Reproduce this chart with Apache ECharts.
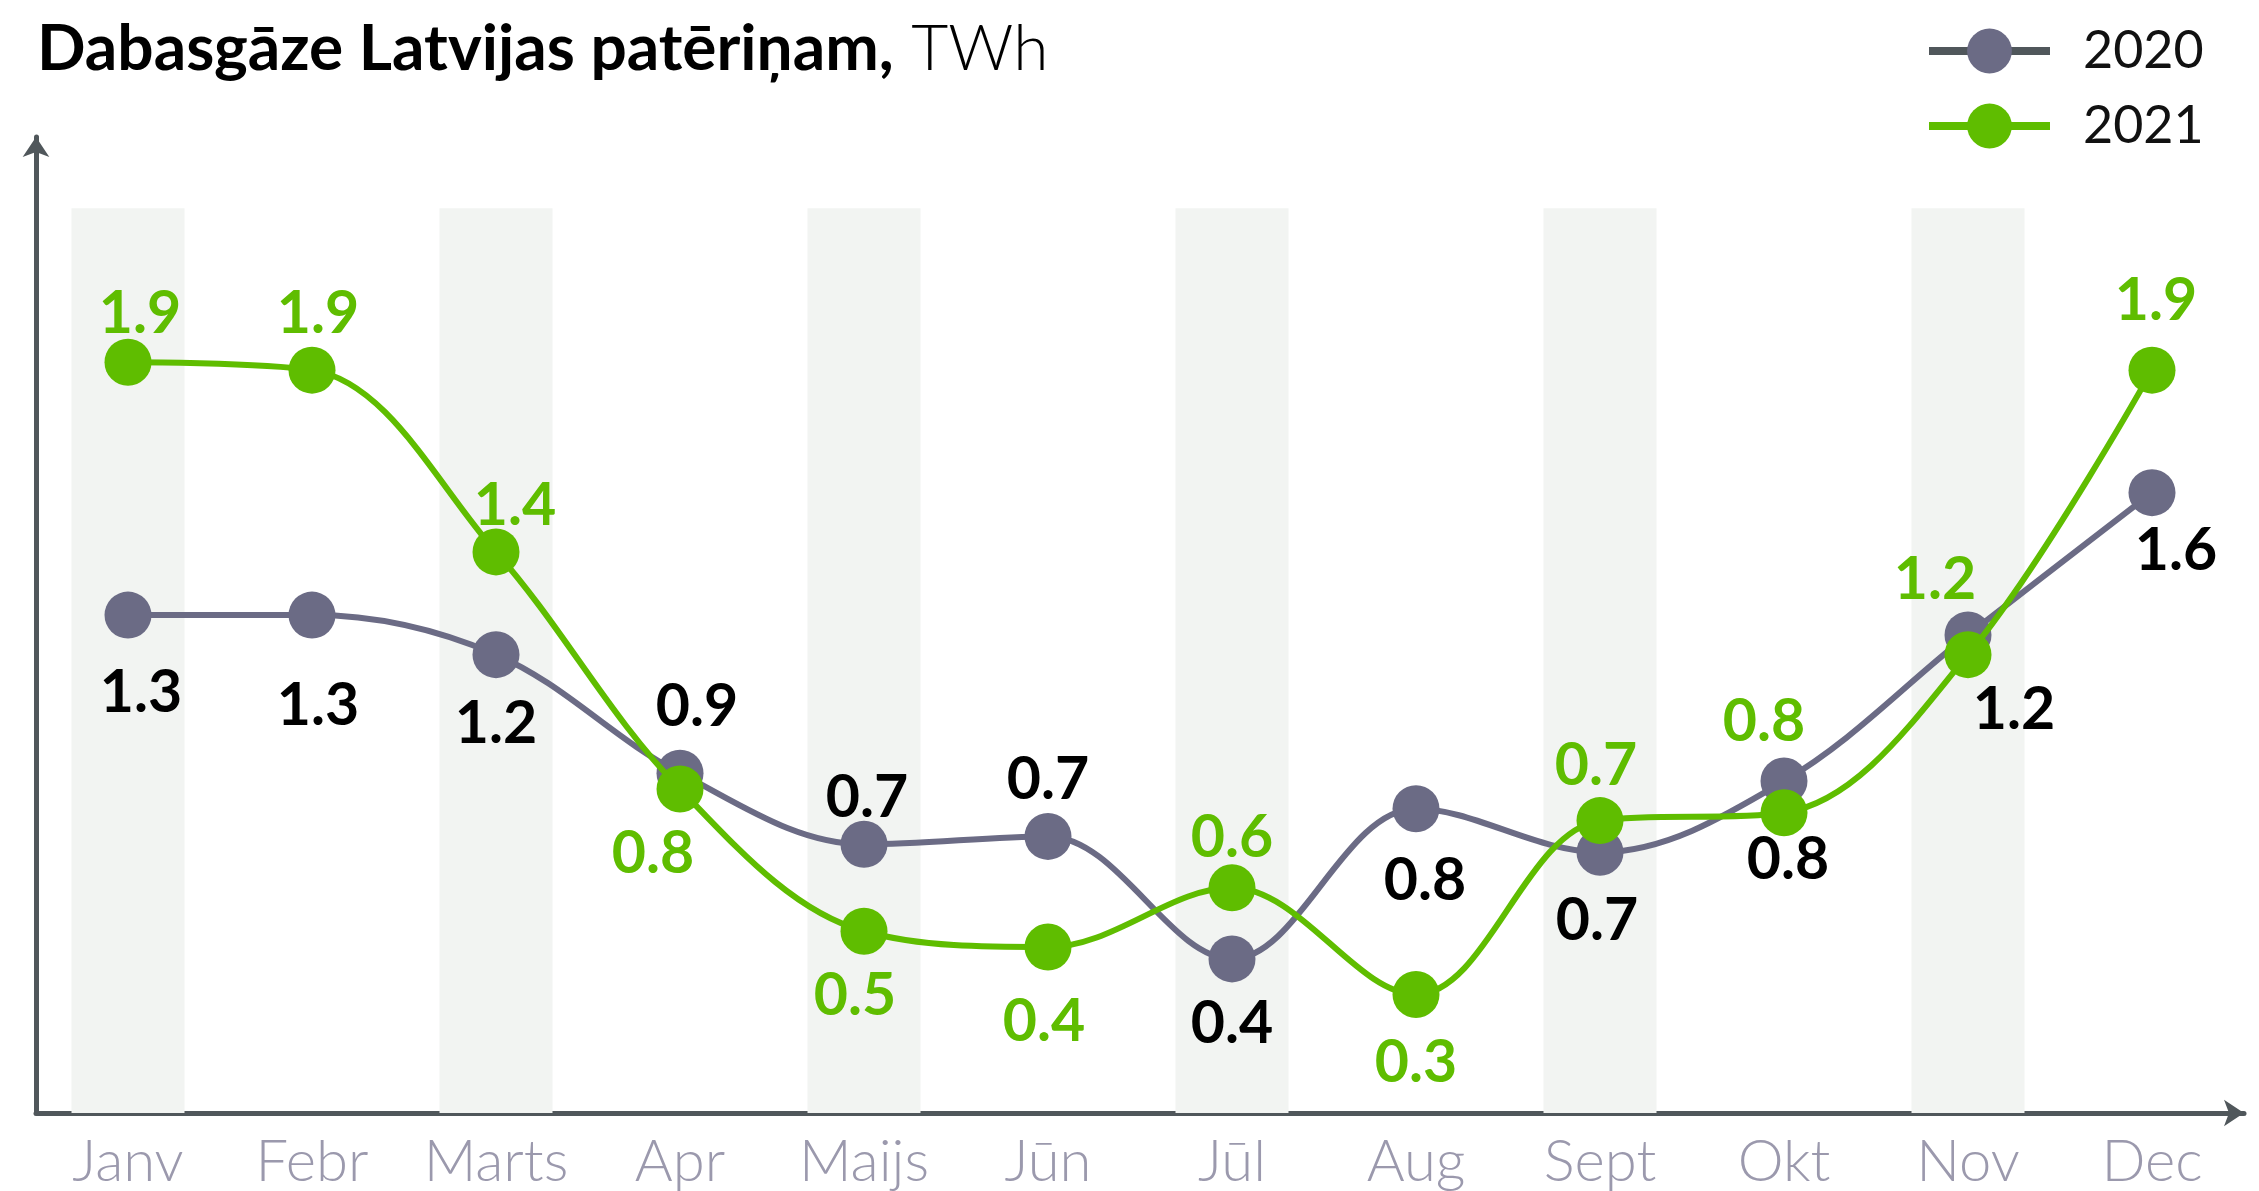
<!DOCTYPE html>
<html>
<head>
<meta charset="utf-8">
<script src="https://cdn.jsdelivr.net/npm/echarts@6/dist/echarts.min.js"></script>
<style>
html,body{margin:0;padding:0;background:#fff;}
#chart{width:2259px;height:1191px;}
</style>
</head>
<body>
<div id="chart"></div>
<script>
// ---- data ----
var categories = ['Janv','Febr','Marts','Apr','Maijs','Jūn','Jūl','Aug','Sept','Okt','Nov','Dec'];
var seriesNames = ['2020','2021'];
var values2020 = [1.26,1.26,1.16,0.86,0.68,0.70,0.39,0.77,0.66,0.84,1.21,1.57];
var values2021 = [1.90,1.88,1.42,0.82,0.46,0.42,0.57,0.30,0.74,0.76,1.16,1.88];
var titleBold = 'Dabasgāze Latvijas patēriņam,';
var titleUnit = 'TWh';

// ---- styling (label placement relative to each point, px) ----
var shift2020 = [[13,78],[6,91],[0,69],[17,-66],[3,-46],[0,-56],[0,65],[9,72],[-3,69],[4,79],[46,75],[24,58]];
var shift2021 = [[12,-48],[6,-56],[19,-46],[-27,65],[-9,65],[-4,75],[0,-50],[0,69],[-4,-55],[-20,-91],[-33,-75],[4,-69]];
var bandTop = 2.29;
var GRAY = '#6b6b85', GREEN = '#5fbd00', AXIS = '#50575b', FONT = 'Lato';

var chart = echarts.init(document.getElementById('chart'));

function makeData(vals, shifts) {
  return vals.map(function (v, i) {
    return { value: v, label: { offset: shifts[i] } };
  });
}

var option = {
  animation: false,
  backgroundColor: '#ffffff',
  title: {
    text: '{b|' + titleBold + '}{l| ' + titleUnit + '}',
    left: 32,
    top: 12,
    textStyle: {
      rich: {
        b: { fontFamily: FONT, fontWeight: 'bold', fontSize: 64, color: '#000' },
        l: { fontFamily: FONT, fontWeight: 300, fontSize: 64, color: '#000' }
      }
    }
  },
  legend: {
    orient: 'vertical',
    left: 1920,
    top: 20,
    itemWidth: 121,
    itemHeight: 56,
    itemGap: 23,
    textStyle: { fontFamily: FONT, fontSize: 52, color: '#111', padding: [0, 0, 0, 28] },
    data: [
      { name: seriesNames[0], lineStyle: { color: AXIS, width: 8 } },
      { name: seriesNames[1], lineStyle: { color: GREEN, width: 8 } }
    ]
  },
  grid: { left: 36, right: 15, top: 137, bottom: 77, containLabel: false },
  xAxis: {
    type: 'category',
    data: categories,
    boundaryGap: true,
    axisTick: { show: false },
    axisLine: {
      show: true,
      lineStyle: { color: AXIS, width: 5 },
      symbol: ['none', 'arrow'],
      symbolSize: [20, 20]
    },
    axisLabel: {
      interval: 0,
      fontFamily: FONT, fontWeight: 300, fontSize: 58, color: '#9b99ad', margin: 20
    }
  },
  yAxis: {
    type: 'value',
    min: 0,
    max: 2.47,
    axisLabel: { show: false },
    axisTick: { show: false },
    splitLine: { show: false },
    axisLine: {
      show: true,
      lineStyle: { color: AXIS, width: 5 },
      symbol: ['none', 'arrow'],
      symbolSize: [20, 20]
    }
  },
  series: [
    {
      name: 'bands',
      type: 'bar',
      silent: true,
      barWidth: 113,
      itemStyle: { color: '#f2f4f2' },
      data: categories.map(function (c, i) { return i % 2 === 0 ? bandTop : '-'; }),
      z: 0
    },
    {
      name: seriesNames[0],
      type: 'line',
      smooth: 0.35,
      symbol: 'circle',
      symbolSize: 47,
      lineStyle: { color: GRAY, width: 6 },
      itemStyle: { color: GRAY },
      label: {
        show: true,
        position: 'inside',
        fontFamily: FONT, fontWeight: 'bold', fontSize: 59, color: '#000',
        formatter: function (p) { return p.value.toFixed(1); }
      },
      data: makeData(values2020, shift2020),
      z: 3
    },
    {
      name: seriesNames[1],
      type: 'line',
      smooth: 0.35,
      symbol: 'circle',
      symbolSize: 47,
      lineStyle: { color: GREEN, width: 6 },
      itemStyle: { color: GREEN },
      label: {
        show: true,
        position: 'inside',
        fontFamily: FONT, fontWeight: 'bold', fontSize: 59, color: GREEN,
        formatter: function (p) { return p.value.toFixed(1); }
      },
      data: makeData(values2021, shift2021),
      z: 4
    }
  ]
};
chart.setOption(option);
</script>
</body>
</html>
